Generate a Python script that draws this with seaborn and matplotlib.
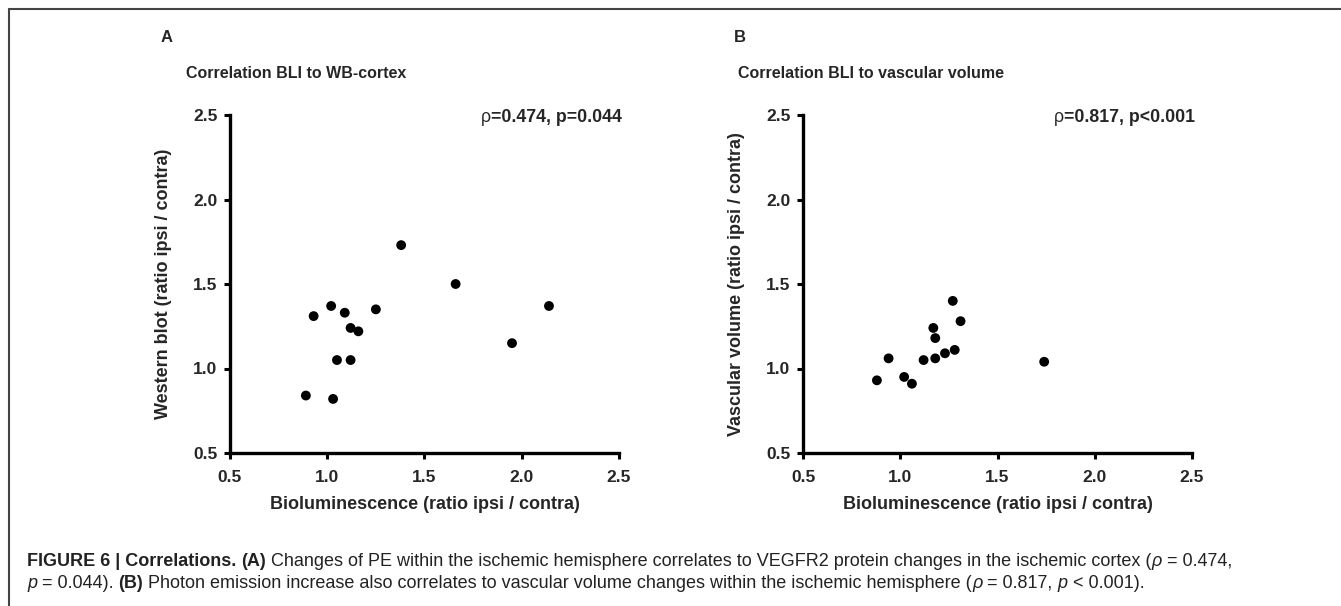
import pandas as pd
import seaborn as sns
import matplotlib.pyplot as plt
from matplotlib.lines import Line2D

# panel A: bioluminescence vs western blot
bli_a = [0.89, 0.93, 1.02, 1.03, 1.05, 1.09, 1.12, 1.12, 1.16, 1.25, 1.38, 1.66, 1.95, 2.14]
wb_a = [0.84, 1.31, 1.37, 0.82, 1.05, 1.33, 1.24, 1.05, 1.22, 1.35, 1.73, 1.50, 1.15, 1.37]

# panel B: bioluminescence vs vascular volume
bli_b = [0.88, 0.94, 1.02, 1.06, 1.12, 1.17, 1.18, 1.18, 1.23, 1.27, 1.28, 1.31, 1.74]
vv_b = [0.93, 1.06, 0.95, 0.91, 1.05, 1.24, 1.18, 1.06, 1.09, 1.40, 1.11, 1.28, 1.04]

ticks = [0.5, 1.0, 1.5, 2.0, 2.5]
panels = ["A", "B"]
titles = ["Correlation BLI to WB-cortex", "Correlation BLI to vascular volume"]
ylabels = ["Western blot (ratio ipsi / contra)", "Vascular volume (ratio ipsi / contra)"]
xlabel = "Bioluminescence (ratio ipsi / contra)"
stats = [("0.474", "p=0.044"), ("0.817", "p<0.001")]

df_a = pd.DataFrame({"x": bli_a, "y": wb_a})
df_b = pd.DataFrame({"x": bli_b, "y": vv_b})

sns.set_style("ticks")
plt.rcParams['font.family'] = ['Liberation Sans', 'DejaVu Sans']

W, H = 1341, 606
fig = plt.figure(figsize=(W / 100, H / 100), dpi=100)

# frame lines (top and left)
fig.add_artist(Line2D([9 / W, 1], [1 - 9 / H, 1 - 9 / H], color="#444444", lw=1.5))
fig.add_artist(Line2D([9 / W, 9 / W], [0, 1 - 9 / H], color="#444444", lw=1.5))

ax_left = [230, 803]
title_x = [186, 738]
for i, df in enumerate([df_a, df_b]):
    ax = fig.add_axes([ax_left[i] / W, 1 - 453 / H, 389 / W, 338 / H])
    sns.scatterplot(data=df, x="x", y="y", ax=ax, color="black", s=50,
                    edgecolor="none", clip_on=False)
    ax.set_xlim(0.5, 2.5)
    ax.set_ylim(0.5, 2.5)
    ax.set_xticks(ticks)
    ax.set_yticks(ticks)
    ax.set_xticklabels([f"{t:.1f}" for t in ticks], fontsize=12.5, fontweight="bold")
    ax.set_yticklabels([f"{t:.1f}" for t in ticks], fontsize=12.5, fontweight="bold")
    ax.set_xlabel(xlabel, fontsize=13, fontweight="bold", labelpad=8)
    ax.set_ylabel(ylabels[i], fontsize=13, fontweight="bold", labelpad=15)
    ax.tick_params(width=2.2, length=4, color="black")
    ax.tick_params(axis="x", pad=8)
    ax.tick_params(axis="y", pad=5)
    sns.despine(ax=ax)
    for sp in ["left", "bottom"]:
        ax.spines[sp].set_linewidth(2.4)
        ax.spines[sp].set_color("black")

    x0 = ax_left[i]
    fig.text((x0 - 69) / W, 1 - 38 / H, panels[i], fontsize=12, fontweight="bold", va="center")
    fig.text(title_x[i] / W, 1 - 73 / H, titles[i], fontsize=11.5, fontweight="bold", va="center")

    # correlation annotation, right aligned to the axis end
    r = (x0 + 392) / W
    t = fig.text(r, 1 - 118 / H, "=" + stats[i][0] + ", " + stats[i][1],
                 fontsize=12.8, fontweight="bold", ha="right", va="center")
    bb = t.get_window_extent(fig.canvas.get_renderer())
    fig.text(bb.x0 / W, 1 - 118 / H, "ρ", fontsize=12.8, ha="right", va="center")


def rich_line(x, y, parts, size=13):
    renderer = fig.canvas.get_renderer()
    for txt, kw in parts:
        tt = fig.text(x, y, txt, fontsize=size, va="center", color="#222222", **kw)
        x += tt.get_window_extent(renderer).width / W


B = {"fontweight": "bold"}
N = {}
I = {"style": "italic"}
rich_line(27 / W, 1 - 561 / H, [
    ("FIGURE 6 | Correlations.", B), (" ", N), ("(A)", B),
    (" Changes of PE within the ischemic hemisphere correlates to VEGFR2 protein changes in the ischemic cortex (", N),
    ("ρ", I), (" = 0.474,", N)])
rich_line(27 / W, 1 - 583 / H, [
    ("p", I), (" = 0.044). ", N), ("(B)", B),
    (" Photon emission increase also correlates to vascular volume changes within the ischemic hemisphere (", N),
    ("ρ", I), (" = 0.817, ", N), ("p", I), (" < 0.001).", N)])

fig.savefig("out.png", dpi=100)
